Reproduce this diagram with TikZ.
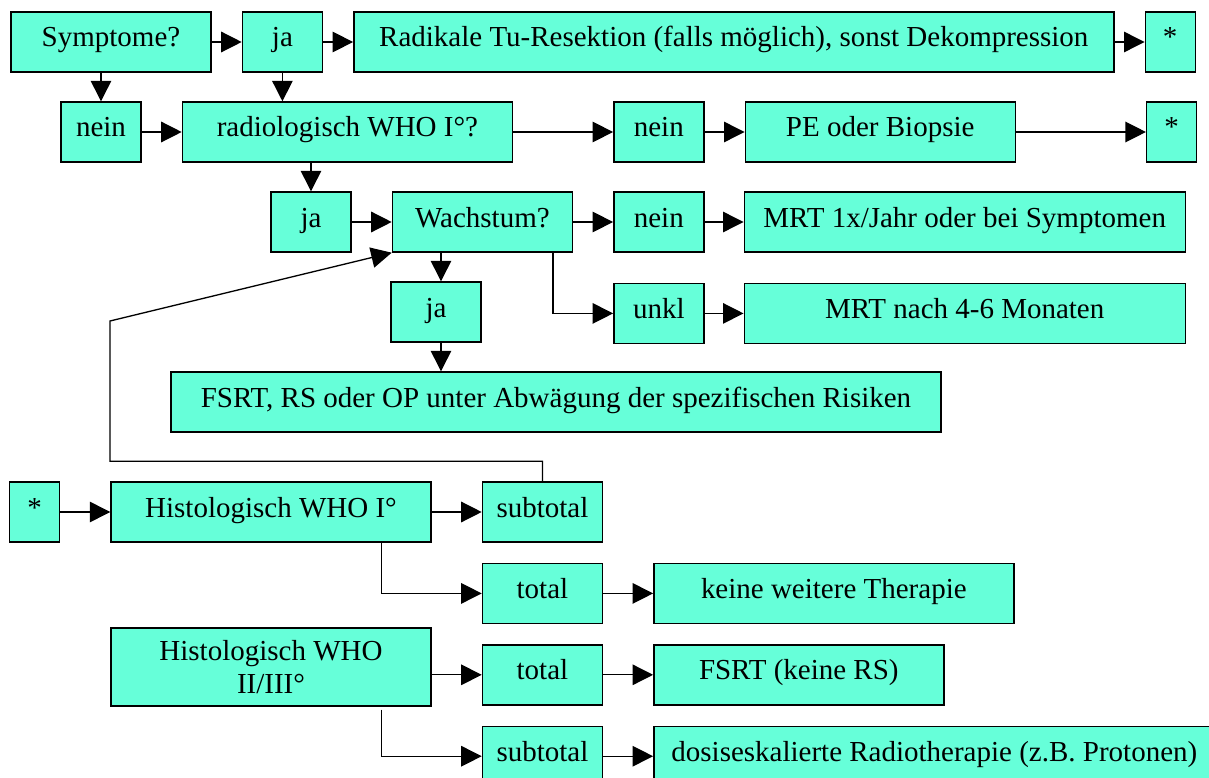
\documentclass[tikz,border=0pt]{standalone}
\usepackage{fontspec}
\setmainfont{Liberation Serif}
\usetikzlibrary{arrows.meta, positioning}
\definecolor{aqua}{RGB}{102,255,217}
\tikzset{
    ->, % every connector ends in an arrow
    >={Triangle[length=0.41cm,width=0.41cm]}, % solid black arrow heads
    cell/.style={draw, line width=0.8pt, fill=aqua, inner sep=1pt, minimum height=1.2cm, font=\fontsize{16.5pt}{19pt}\selectfont}, % the boxes
    box/.style={cell, text height=0.42cm, text depth=0.22cm}, % one-line boxes, text a bit above the middle
}
\begin{document}
\begin{tikzpicture}[line width=0.75pt]
\useasboundingbox (0,0) rectangle (24.18,-15.56);
\node[box, minimum width=4cm] (symp) at (2.22,-0.84) {Symptome?};
\node[box, minimum width=1.6cm, right=0.6cm of symp] (ja1) {ja};
\node[box, minimum width=15.2cm, right=0.6cm of ja1] (radikal) {Radikale Tu-Resektion (falls möglich), sonst Dekompression};
\node[box, minimum width=1cm, right=0.6cm of radikal] (stern1) {*};
\node[box, minimum width=1.6cm] (nein1) at (2.02,-2.64) {nein};
\node[box, minimum width=6.6cm, right=0.8cm of nein1] (radio) {radiologisch WHO I°?};
\node[box, minimum width=1.8cm, right=2cm of radio] (nein2) {nein};
\node[box, minimum width=5.4cm, right=0.8cm of nein2] (pe) {PE oder Biopsie};
\node[box, minimum width=1cm, right=2.6cm of pe] (stern2) {*};
\node[box, minimum width=1.6cm] (ja2) at (6.22,-4.44) {ja};
\node[box, minimum width=3.6cm, right=0.8cm of ja2] (wachs) {Wachstum?};
\node[box, minimum width=1.8cm, right=0.8cm of wachs] (nein3) {nein};
\node[box, minimum width=8.82cm, right=0.78cm of nein3] (mrtA) {MRT 1x/Jahr oder bei Symptomen};
\node[box, minimum width=1.8cm] (ja3) at (8.72,-6.24) {ja};
\node[box, minimum width=1.8cm, below=0.6cm of nein3] (unkl) {unkl};
\node[box, minimum width=8.82cm, below=0.6cm of mrtA] (mrtB) {MRT nach 4-6 Monaten};
\node[box, minimum width=15.4cm] (fsrt) at (11.12,-8.04) {FSRT, RS oder OP unter Abwägung der spezifischen Risiken};
\node[box, minimum width=6.4cm] (histoA) at (5.42,-10.24) {Histologisch WHO I°};
\node[box, minimum width=1cm, left=1cm of histoA] (stern3) {*};
\node[box, minimum width=2.4cm, right=1cm of histoA] (subA) {subtotal};
\node[box, minimum width=2.4cm, below=0.4cm of subA] (totalA) {total};
\node[box, minimum width=7.2cm, right=1cm of totalA] (keine) {keine weitere Therapie};
\node[cell, minimum width=6.4cm, minimum height=1.56cm, align=center] (histoB) at (5.42,-13.34) {Histologisch WHO\\II/III°};
\node[box, minimum width=2.4cm, below=0.4cm of totalA] (totalB) {total};
\node[box, minimum width=5.8cm, right=1cm of totalB] (fsrtB) {FSRT (keine RS)};
\node[box, minimum width=2.4cm, below=0.4cm of totalB] (subB) {subtotal};
\node[box, minimum width=11.22cm, right=1cm of subB] (dosis) {dosiseskalierte Radiotherapie (z.B. Protonen)};
\coordinate (jaTop) at ([xshift=1mm]ja3.north);
\coordinate (jaBot) at ([xshift=1mm]ja3.south);
\coordinate (knick) at (2.2,-6.42);
\draw (symp) -- (ja1);
\draw (ja1) -- (radikal);
\draw (radikal) -- (stern1);
\draw (symp.south -| nein1.north) -- (nein1.north);
\draw (ja1.south) -- (ja1.south |- radio.north);
\draw (nein1) -- (radio);
\draw (radio) -- (nein2);
\draw (nein2) -- (pe);
\draw (pe) -- (stern2);
\draw (radio.south -| ja2.north) -- (ja2.north);
\draw (ja2) -- (wachs);
\draw (wachs) -- (nein3);
\draw (nein3) -- (mrtA);
\draw ([xshift=-4mm]wachs.south east) |- (unkl.west);
\draw (unkl) -- (mrtB);
\draw (jaTop |- wachs.south) -- (jaTop);
\draw (jaBot) -- (jaBot |- fsrt.north);
\draw (subA.north) -- ++(0,0.4) -| (knick) -- (wachs.south west);
\draw (stern3) -- (histoA);
\draw (histoA) -- (subA);
\draw ([xshift=-1cm]histoA.south east) |- (totalA.west);
\draw (totalA) -- (keine);
\draw (histoB.east |- totalB.west) -- (totalB.west);
\draw (totalB) -- (fsrtB);
\draw ([xshift=-1cm,yshift=-0.06cm]histoB.south east) |- (subB.west);
\draw (subB) -- (dosis);
\end{tikzpicture}
\end{document}
